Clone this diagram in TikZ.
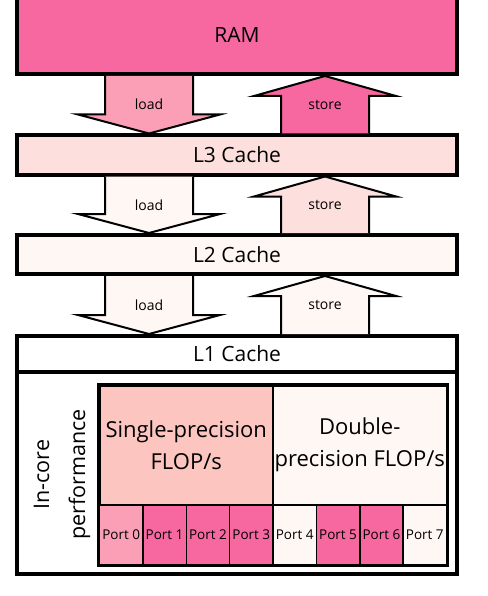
\documentclass[tikz,border=0pt]{standalone}
\usepackage{fontspec}
\setmainfont{Open Sans}
\usetikzlibrary{calc}
\definecolor{rdpuA}{HTML}{FFF7F3}
\definecolor{rdpuB}{HTML}{FDE0DD}
\definecolor{rdpuC}{HTML}{FCC5C0}
\definecolor{rdpuD}{HTML}{FA9FB5}
\definecolor{rdpuE}{HTML}{F768A1}
\tikzset{
    level/.style={draw, line width=4pt, minimum width=440pt, inner sep=0pt, font=\fontsize{21}{25}\selectfont},
    blockarrow/.style={draw, line width=2pt, line join=miter},
    arrowlabel/.style={font=\fontsize{14}{16}\selectfont},
    flops/.style={draw, line width=2pt, minimum width=173.5pt, minimum height=119.5pt, inner sep=0pt, align=center, font=\fontsize{22}{32}\selectfont},
    port/.style={draw, line width=1.5pt, minimum width=43.375pt, minimum height=59.5pt, inner sep=0pt, font=\fontsize{13.5}{15}\selectfont}
}
% #1 upper level, #2 lower level, #3 fill, #4 name
\newcommand{\loadarrow}[4]{
    \coordinate (#4-top) at ($(#1.south)+(-88,0)$);
    \coordinate (#4-tip) at ($(#2.north)+(-88,0)$);
    \draw[blockarrow, fill=#3] ($(#4-top)+(-44,0)$) -- ($(#4-tip)+(-44,-19)$) -- ($(#4-tip)+(-71,-19)$) -- (#4-tip)
        -- ($(#4-tip)+(71,-19)$) -- ($(#4-tip)+(44,-19)$) -- ($(#4-top)+(44,0)$);
    \node[arrowlabel] (#4) at ($(#4-top)!.5!(#4-tip)$) {load};
}
% #1 lower level, #2 upper level, #3 fill, #4 name
\newcommand{\storearrow}[4]{
    \coordinate (#4-base) at ($(#1.north)+(88,0)$);
    \coordinate (#4-tip) at ($(#2.south)+(88,0)$);
    \draw[blockarrow, fill=#3] ($(#4-base)+(-44,0)$) -- ($(#4-tip)+(-44,20)$) -- ($(#4-tip)+(-71,20)$) -- (#4-tip)
        -- ($(#4-tip)+(71,20)$) -- ($(#4-tip)+(44,20)$) -- ($(#4-base)+(44,0)$);
    \node[arrowlabel] (#4) at ($(#4-base)!.5!(#4-tip)$) {store};
}
\begin{document}
\begin{tikzpicture}[x=1pt, y=-1pt]
    \useasboundingbox (0,0) rectangle (487,596);
    % memory levels
    \node[level, fill=rdpuE, minimum height=78pt] (ram) at (237,35) {RAM};
    \node[level, fill=rdpuB, minimum height=39pt] (l3) at (237,155) {L3 Cache};
    \node[level, fill=rdpuA, minimum height=39pt] (l2) at (237,254.5) {L2 Cache};
    \node[level, fill=white, minimum height=36pt] (l1) at (237,354) {L1 Cache};
    \node[level, minimum height=202pt] (core) at (237,473) {};
    % transfers
    \loadarrow{ram}{l3}{rdpuD}{load3}
    \storearrow{l3}{ram}{rdpuE}{store3}
    \loadarrow{l3}{l2}{rdpuA}{load2}
    \storearrow{l2}{l3}{rdpuB}{store2}
    \loadarrow{l2}{l1}{rdpuA}{load1}
    \storearrow{l1}{l2}{rdpuA}{store1}
    % in-core
    \node[rotate=90, align=center, font=\fontsize{21.5}{36}\selectfont] (incore) at (62,474.5) {In-core\\performance};
    \node[flops, fill=rdpuC] (sp) at (186.25,445.25) {Single-precision\\FLOP/s};
    \node[flops, fill=rdpuA] (dp) at (359.75,445.25) {Double-\\precision FLOP/s};
    \foreach \i/\c in {0/rdpuD,1/rdpuE,2/rdpuE,3/rdpuE,4/rdpuA,5/rdpuE,6/rdpuE,7/rdpuA}
        \node[port, fill=\c] (p\i) at (121.1875+43.375*\i, 534.75) {Port \i};
    \draw[line width=3pt] (sp.north west) rectangle (p7.south east);
\end{tikzpicture}
\end{document}
